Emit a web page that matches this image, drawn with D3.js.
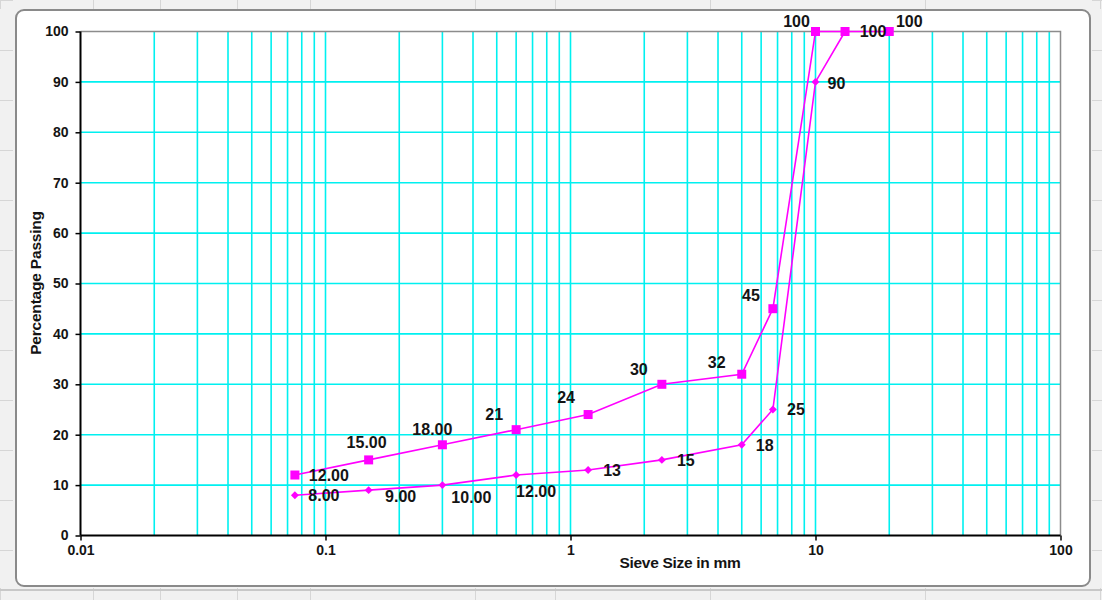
<!DOCTYPE html>
<html>
<head>
<meta charset="utf-8">
<script src="https://cdn.jsdelivr.net/npm/d3@7"></script>
<style>
  html, body { margin: 0; padding: 0; background: #f2f2f2; }
  svg { display: block; }
  text { font-family: "Liberation Sans", Arial, sans-serif; font-weight: bold; fill: #141414; }
</style>
</head>
<body>
<svg id="chart" width="1102" height="600"></svg>
<script>
// Sieve sizes (mm) and percentage passing for the two gradations
const coarseSizes  = [0.075, 0.15, 0.3, 0.6, 1.18, 2.36, 5, 6.7, 10, 13.2, 20];
const coarsePass   = [12, 15, 18, 21, 24, 30, 32, 45, 100, 100, 100];
const coarseLabels = ["12.00", "15.00", "18.00", "21", "24", "30", "32", "45", "100", "", "100"];

const fineSizes  = [0.075, 0.15, 0.3, 0.6, 1.18, 2.36, 5, 6.7, 10, 13.2];
const finePass   = [8, 9, 10, 12, 13, 15, 18, 25, 90, 100];
const fineLabels = ["8.00", "9.00", "10.00", "12.00", "13", "15", "18", "25", "90", "100"];

const xDomain = [0.01, 100];
const xTickValues = [0.01, 0.1, 1, 10, 100];
const xTickLabels = ["0.01", "0.1", "1", "10", "100"];
const yTickValues = [0, 10, 20, 30, 40, 50, 60, 70, 80, 90, 100];

// label placement offsets (px) relative to each marker
const coarseLabelOffset = [[34,0],[-2,-18],[-10,-16],[-22,-15],[-22,-17],[-23,-15],[-25,-12],[-22,-13],[-19,-10],[0,0],[20,-10]];
const fineLabelOffset   = [[29,0],[32,6],[29,12],[20,16],[24,0],[24,0],[23,0],[23,0],[21,1],[28,0]];

const svg = d3.select("#chart");

// spreadsheet backdrop around the chart object
const bg = svg.append("g");
bg.append("rect").attr("width", 1102).attr("height", 600).attr("fill", "#f1f1f1");
[0, 93, 160, 237, 310, 475, 555, 710, 925, 1100].forEach(v => {
  bg.append("line").attr("x1", v + 0.5).attr("x2", v + 0.5).attr("y1", 0).attr("y2", 9).attr("stroke", "#d6d6d6");
  bg.append("line").attr("x1", v + 0.5).attr("x2", v + 0.5).attr("y1", 588).attr("y2", 600).attr("stroke", "#d6d6d6");
});
[0, 50, 100, 150, 200, 250, 300, 350, 400, 450, 500, 550].forEach(v => {
  bg.append("line").attr("x1", 0).attr("x2", 13).attr("y1", v + 0.5).attr("y2", v + 0.5).attr("stroke", "#d6d6d6");
  bg.append("line").attr("x1", 1092).attr("x2", 1102).attr("y1", v + 0.5).attr("y2", v + 0.5).attr("stroke", "#d6d6d6");
});
bg.append("rect").attr("x", 0).attr("y", 589).attr("width", 1102).attr("height", 2).attr("fill", "#c8c8c8");

// chart area
svg.append("rect")
  .attr("x", 16).attr("y", 10).attr("width", 1074).attr("height", 576)
  .attr("rx", 8).attr("ry", 8)
  .attr("fill", "#ffffff").attr("stroke", "#8a8a8a").attr("stroke-width", 2);

const plot = { left: 80.5, right: 1060.5, top: 31.5, bottom: 535.5 };

const x = d3.scaleLog().domain(xDomain).range([plot.left, plot.right]);
const y = d3.scaleLinear().domain([0, 100]).range([plot.bottom, plot.top]);

// gridlines
const grid = svg.append("g").attr("stroke", "#00f0f0").attr("stroke-width", 1.6);
x.ticks().filter(v => v > xDomain[0] * 1.0001 && v < xDomain[1] * 0.9999).forEach(v => {
  grid.append("line").attr("x1", x(v)).attr("x2", x(v)).attr("y1", plot.top).attr("y2", plot.bottom);
});
yTickValues.filter(v => v > 0 && v < 100).forEach(v => {
  grid.append("line").attr("x1", plot.left).attr("x2", plot.right).attr("y1", y(v)).attr("y2", y(v));
});

// plot border (top and right)
svg.append("path")
  .attr("d", `M${plot.left},${plot.top}H${plot.right}V${plot.bottom}`)
  .attr("fill", "none").attr("stroke", "#8c8c8c").attr("stroke-width", 1.5);

// axes
const yAxis = svg.append("g")
  .attr("transform", `translate(${plot.left},0)`)
  .call(d3.axisLeft(y).tickValues(yTickValues).tickSize(5).tickPadding(7));
const xAxis = svg.append("g")
  .attr("transform", `translate(0,${plot.bottom})`)
  .call(d3.axisBottom(x).tickValues(xTickValues).tickSize(5).tickPadding(5)
    .tickFormat((d, i) => xTickLabels[i]));
[yAxis, xAxis].forEach(a => {
  a.selectAll(".domain").attr("stroke", "#000").attr("stroke-width", 2);
  a.selectAll(".tick line").attr("stroke", "#000").attr("stroke-width", 1.5);
  a.selectAll(".tick text").attr("font-size", 14).attr("font-family", null).attr("fill", "#141414");
});
yAxis.select(".domain").attr("d", `M0,${plot.top}V${plot.bottom}`);
xAxis.select(".domain").attr("d", `M${plot.left},0H${plot.right}`);

// axis titles
svg.append("text")
  .attr("x", 680).attr("y", 568)
  .attr("text-anchor", "middle").attr("font-size", 15.5)
  .attr("letter-spacing", -0.3)
  .text("Sieve Size in mm");
svg.append("text")
  .attr("transform", "translate(41,283) rotate(-90)")
  .attr("text-anchor", "middle").attr("font-size", 15.5)
  .attr("letter-spacing", -0.2)
  .text("Percentage Passing");

// series
const magenta = "#ff00ff";
const line = d3.line().x(d => x(d[0])).y(d => y(d[1]));

const fine = fineSizes.map((s, i) => [s, finePass[i]]);
const coarse = coarseSizes.map((s, i) => [s, coarsePass[i]]);

svg.append("path").datum(fine).attr("d", line)
  .attr("fill", "none").attr("stroke", magenta).attr("stroke-width", 1.6);
svg.append("path").datum(coarse).attr("d", line)
  .attr("fill", "none").attr("stroke", magenta).attr("stroke-width", 1.6);

svg.append("g").selectAll("path").data(fine).join("path")
  .attr("d", d3.symbol(d3.symbolDiamond2, 40))
  .attr("transform", d => `translate(${x(d[0])},${y(d[1])})`)
  .attr("fill", magenta);
svg.append("g").selectAll("rect").data(coarse).join("rect")
  .attr("x", d => x(d[0]) - 4.5).attr("y", d => y(d[1]) - 4.5)
  .attr("width", 9).attr("height", 9)
  .attr("fill", magenta);

// data labels
function labels(data, texts, offsets) {
  svg.append("g").selectAll("text").data(data).join("text")
    .attr("x", (d, i) => x(d[0]) + offsets[i][0])
    .attr("y", (d, i) => y(d[1]) + offsets[i][1])
    .attr("dy", "0.36em")
    .attr("text-anchor", "middle")
    .attr("font-size", 16)
    .text((d, i) => texts[i]);
}
labels(coarse, coarseLabels, coarseLabelOffset);
labels(fine, fineLabels, fineLabelOffset);
</script>
</body>
</html>
